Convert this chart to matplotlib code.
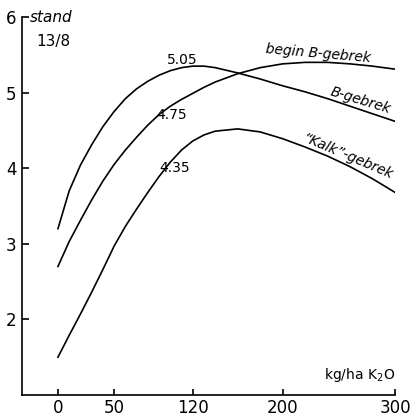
import matplotlib.pyplot as plt

# kg/ha K2O
x_vals = [0, 10, 20, 30, 40, 50, 60, 70, 80, 90, 100, 110, 120, 130, 140,
          160, 180, 200, 220, 240, 260, 280, 300]

# B-gebrek (peak labelled 5.05)
b_gebrek = [3.20, 3.70, 4.04, 4.31, 4.55, 4.75, 4.92, 5.05, 5.15, 5.23, 5.29, 5.33,
            5.35, 5.35, 5.33, 5.26, 5.18, 5.09, 5.01, 4.92, 4.82, 4.72, 4.62]
# begin B-gebrek
begin_b = [2.70, 3.03, 3.31, 3.58, 3.83, 4.05, 4.24, 4.41, 4.57, 4.71, 4.82, 4.91,
           4.99, 5.07, 5.14, 5.25, 5.33, 5.38, 5.40, 5.40, 5.38, 5.35, 5.31]
# "Kalk"-gebrek
kalk = [1.50, 1.79, 2.07, 2.36, 2.66, 2.97, 3.23, 3.46, 3.68, 3.89, 4.08, 4.24,
        4.36, 4.44, 4.49, 4.52, 4.48, 4.39, 4.28, 4.16, 4.02, 3.86, 3.68]

x_ticks = [0, 50, 120, 200, 300]
y_ticks = [2, 3, 4, 5, 6]

fig = plt.figure(figsize=(4.19, 4.16), dpi=100)
ax = fig.add_axes([22 / 419, 1 - 395 / 416, (395 - 22) / 419, (395 - 17) / 416])

for ys in (b_gebrek, begin_b, kalk):
    ax.plot(x_vals, ys, color="black", lw=1.2)

ax.set_xlim(-32, 300)
ax.set_ylim(1, 6)
ax.spines["top"].set_visible(False)
ax.spines["right"].set_visible(False)
for s in ("left", "bottom"):
    ax.spines[s].set_linewidth(1.2)

ax.set_xticks(x_ticks)
ax.set_yticks(y_ticks)
ax.tick_params(axis="y", direction="in", length=5, width=1.2, labelsize=12, pad=4)
ax.tick_params(axis="x", direction="in", length=4, width=1.2, labelsize=12, pad=3)

# labels on the curves
ax.text(111, 5.43, "5.05", fontsize=10, ha="center", va="center")
ax.text(101, 4.71, "4.75", fontsize=10, ha="center", va="center")
ax.text(104, 4.00, "4.35", fontsize=10, ha="center", va="center")

ax.text(232, 5.52, "begin B-gebrek", fontsize=10, style="italic",
        ha="center", va="center", rotation=-5)
ax.text(269, 4.90, "B-gebrek", fontsize=10, style="italic",
        ha="center", va="center", rotation=-17)
ax.text(258, 4.15, "\u201cKalk\u201d-gebrek", fontsize=10, style="italic",
        ha="center", va="center", rotation=-23)

ax.text(-25, 6.0, "stand", fontsize=11, style="italic", ha="left", va="center")
ax.text(-19, 5.68, "13/8", fontsize=11, ha="left", va="center")
ax.text(300, 1.14, "kg/ha K$_2$O", fontsize=10, ha="right", va="bottom")

fig.savefig("out.png", dpi=100)
